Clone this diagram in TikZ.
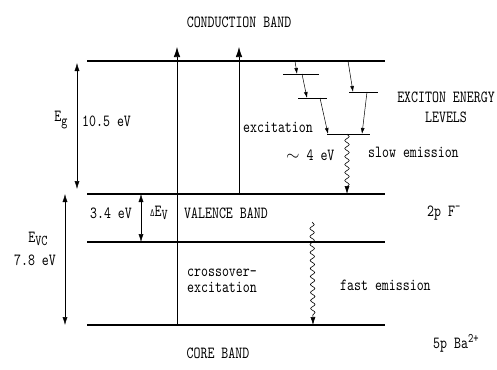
\documentclass[tikz,border=0pt]{standalone}
\usepackage{fontspec}
\setmainfont{lmmono10-regular.otf}[FakeStretch=0.78]
\usetikzlibrary{arrows.meta,decorations.pathmorphing}
\newcommand{\lowtxt}[1]{\raisebox{-0.45ex}{\fontsize{15}{15}\selectfont #1}}
\newcommand{\uptxt}[1]{\raisebox{0.8ex}{\fontsize{13}{13}\selectfont #1}}

\begin{document}
\begin{tikzpicture}[x=1pt,y=-1pt,>={Latex[length=10pt,width=6.5pt]},
    band/.style={line width=1.2pt},
    level/.style={line width=0.9pt},
    gap/.style={<->,>={Latex[length=8pt,width=5pt]},line width=0.5pt},
    drop/.style={->,>={Latex[length=6pt,width=3.8pt]},line width=0.5pt},
    wavy/.style={->,>={Latex[length=8pt,width=5pt]},line width=0.6pt,decorate,decoration={snake,amplitude=2.2pt,segment length=8pt,post length=7pt}},
    lbl/.style={font=\fontsize{17}{16}\selectfont,inner sep=0pt}]
    \useasboundingbox (0,0) rectangle (497,369);

    % energetické hladiny pásů
    \coordinate (cbL) at (87,61);   \coordinate (cbR) at (385,61);
    \coordinate (vbL) at (87,194);  \coordinate (vbR) at (385,194);
    \coordinate (vlL) at (87,242);  \coordinate (vlR) at (385,242);
    \coordinate (coL) at (87,325);  \coordinate (coR) at (385,325);
    \draw[band] (cbL) -- (cbR);
    \draw[band] (vbL) -- (vbR);
    \draw[band] (vlL) -- (vlR);
    \draw[band] (coL) -- (coR);

    % excitonové hladiny
    \coordinate (x1L) at (283,74);  \coordinate (x1R) at (319,74);
    \coordinate (x2L) at (298,98);  \coordinate (x2R) at (327,98);
    \coordinate (x3L) at (349,92);  \coordinate (x3R) at (378,92);
    \coordinate (x4L) at (327,134); \coordinate (x4R) at (370,134);
    \draw[level] (x1L) -- (x1R);
    \draw[level] (x2L) -- (x2R);
    \draw[level] (x3L) -- (x3R);
    \draw[level] (x4L) -- (x4R);

    % excitace
    \coordinate (crA) at (177,325); \coordinate (crB) at (177,47);
    \coordinate (exA) at (239,194); \coordinate (exB) at (239,47);
    \draw[->,line width=0.6pt] (crA) -- (crB);
    \draw[->,line width=0.6pt] (exA) -- (exB);

    % relaxace do excitonů
    \coordinate (r1a) at (295,61);  \coordinate (r1b) at (297,74);
    \coordinate (r2a) at (302,74);  \coordinate (r2b) at (307,98);
    \coordinate (r3a) at (320,98);  \coordinate (r3b) at (328,134);
    \coordinate (r4a) at (348,61);  \coordinate (r4b) at (353,92);
    \coordinate (r5a) at (367,92);  \coordinate (r5b) at (362,134);
    \draw[drop] (r1a) -- (r1b);
    \draw[drop] (r2a) -- (r2b);
    \draw[drop] (r3a) -- (r3b);
    \draw[drop] (r4a) -- (r4b);
    \draw[drop] (r5a) -- (r5b);

    % emise
    \coordinate (seA) at (347,134); \coordinate (seB) at (347,194);
    \coordinate (feA) at (312,222); \coordinate (feB) at (313,325);
    \draw[wavy] (seA) -- (seB);
    \draw[wavy] (feA) -- (feB);

    % šířky zakázaných pásů
    \coordinate (egA) at (77,63);   \coordinate (egB) at (77,189);
    \coordinate (evA) at (65,194);  \coordinate (evB) at (65,325);
    \coordinate (dvA) at (141,194); \coordinate (dvB) at (141,242);
    \draw[gap] (egA) -- (egB);
    \draw[gap] (evA) -- (evB);
    \draw[gap] (dvA) -- (dvB);

    % popisky
    \node[lbl] (cbTxt) at (239,22) {CONDUCTION BAND};
    \node[lbl] (egTxt) at (61,120) {E\lowtxt{g}};
    \node[lbl,anchor=west] (egVal) at (82,121) {10.5 eV};
    \node[lbl,anchor=west] (exTxt) at (243,127) {excitation};
    \node[lbl,align=center] (xlTxt) at (446,107) {EXCITON ENERGY\\[4pt]LEVELS};
    \node[lbl,anchor=west] (seVal) at (286,155) {$\sim$ 4 eV};
    \node[lbl,anchor=west] (seTxt) at (368,152) {slow emission};
    \node[lbl] (dvVal) at (111,213) {3.4 eV};
    \node[lbl] (dvTxt) at (159,213) {{\fontsize{11}{12}\selectfont Δ}E\lowtxt{V}};
    \node[lbl,anchor=west] (vbTxt) at (184,213) {VALENCE BAND};
    \node[lbl,anchor=west] (fTxt) at (427,213) {2p F\uptxt{-}};
    \node[lbl] (evTxt) at (38,239) {E\lowtxt{VC}};
    \node[lbl] (evVal) at (35,260) {7.8 eV};
    \node[lbl,align=left,anchor=west] (coTxt) at (187,281) {crossover-\\excitation};
    \node[lbl,anchor=west] (feTxt) at (340,285) {fast emission};
    \node[lbl] (coreTxt) at (218,353) {CORE BAND};
    \node[lbl,anchor=west] (baTxt) at (433,343) {5p Ba\uptxt{2+}};
\end{tikzpicture}
\end{document}
